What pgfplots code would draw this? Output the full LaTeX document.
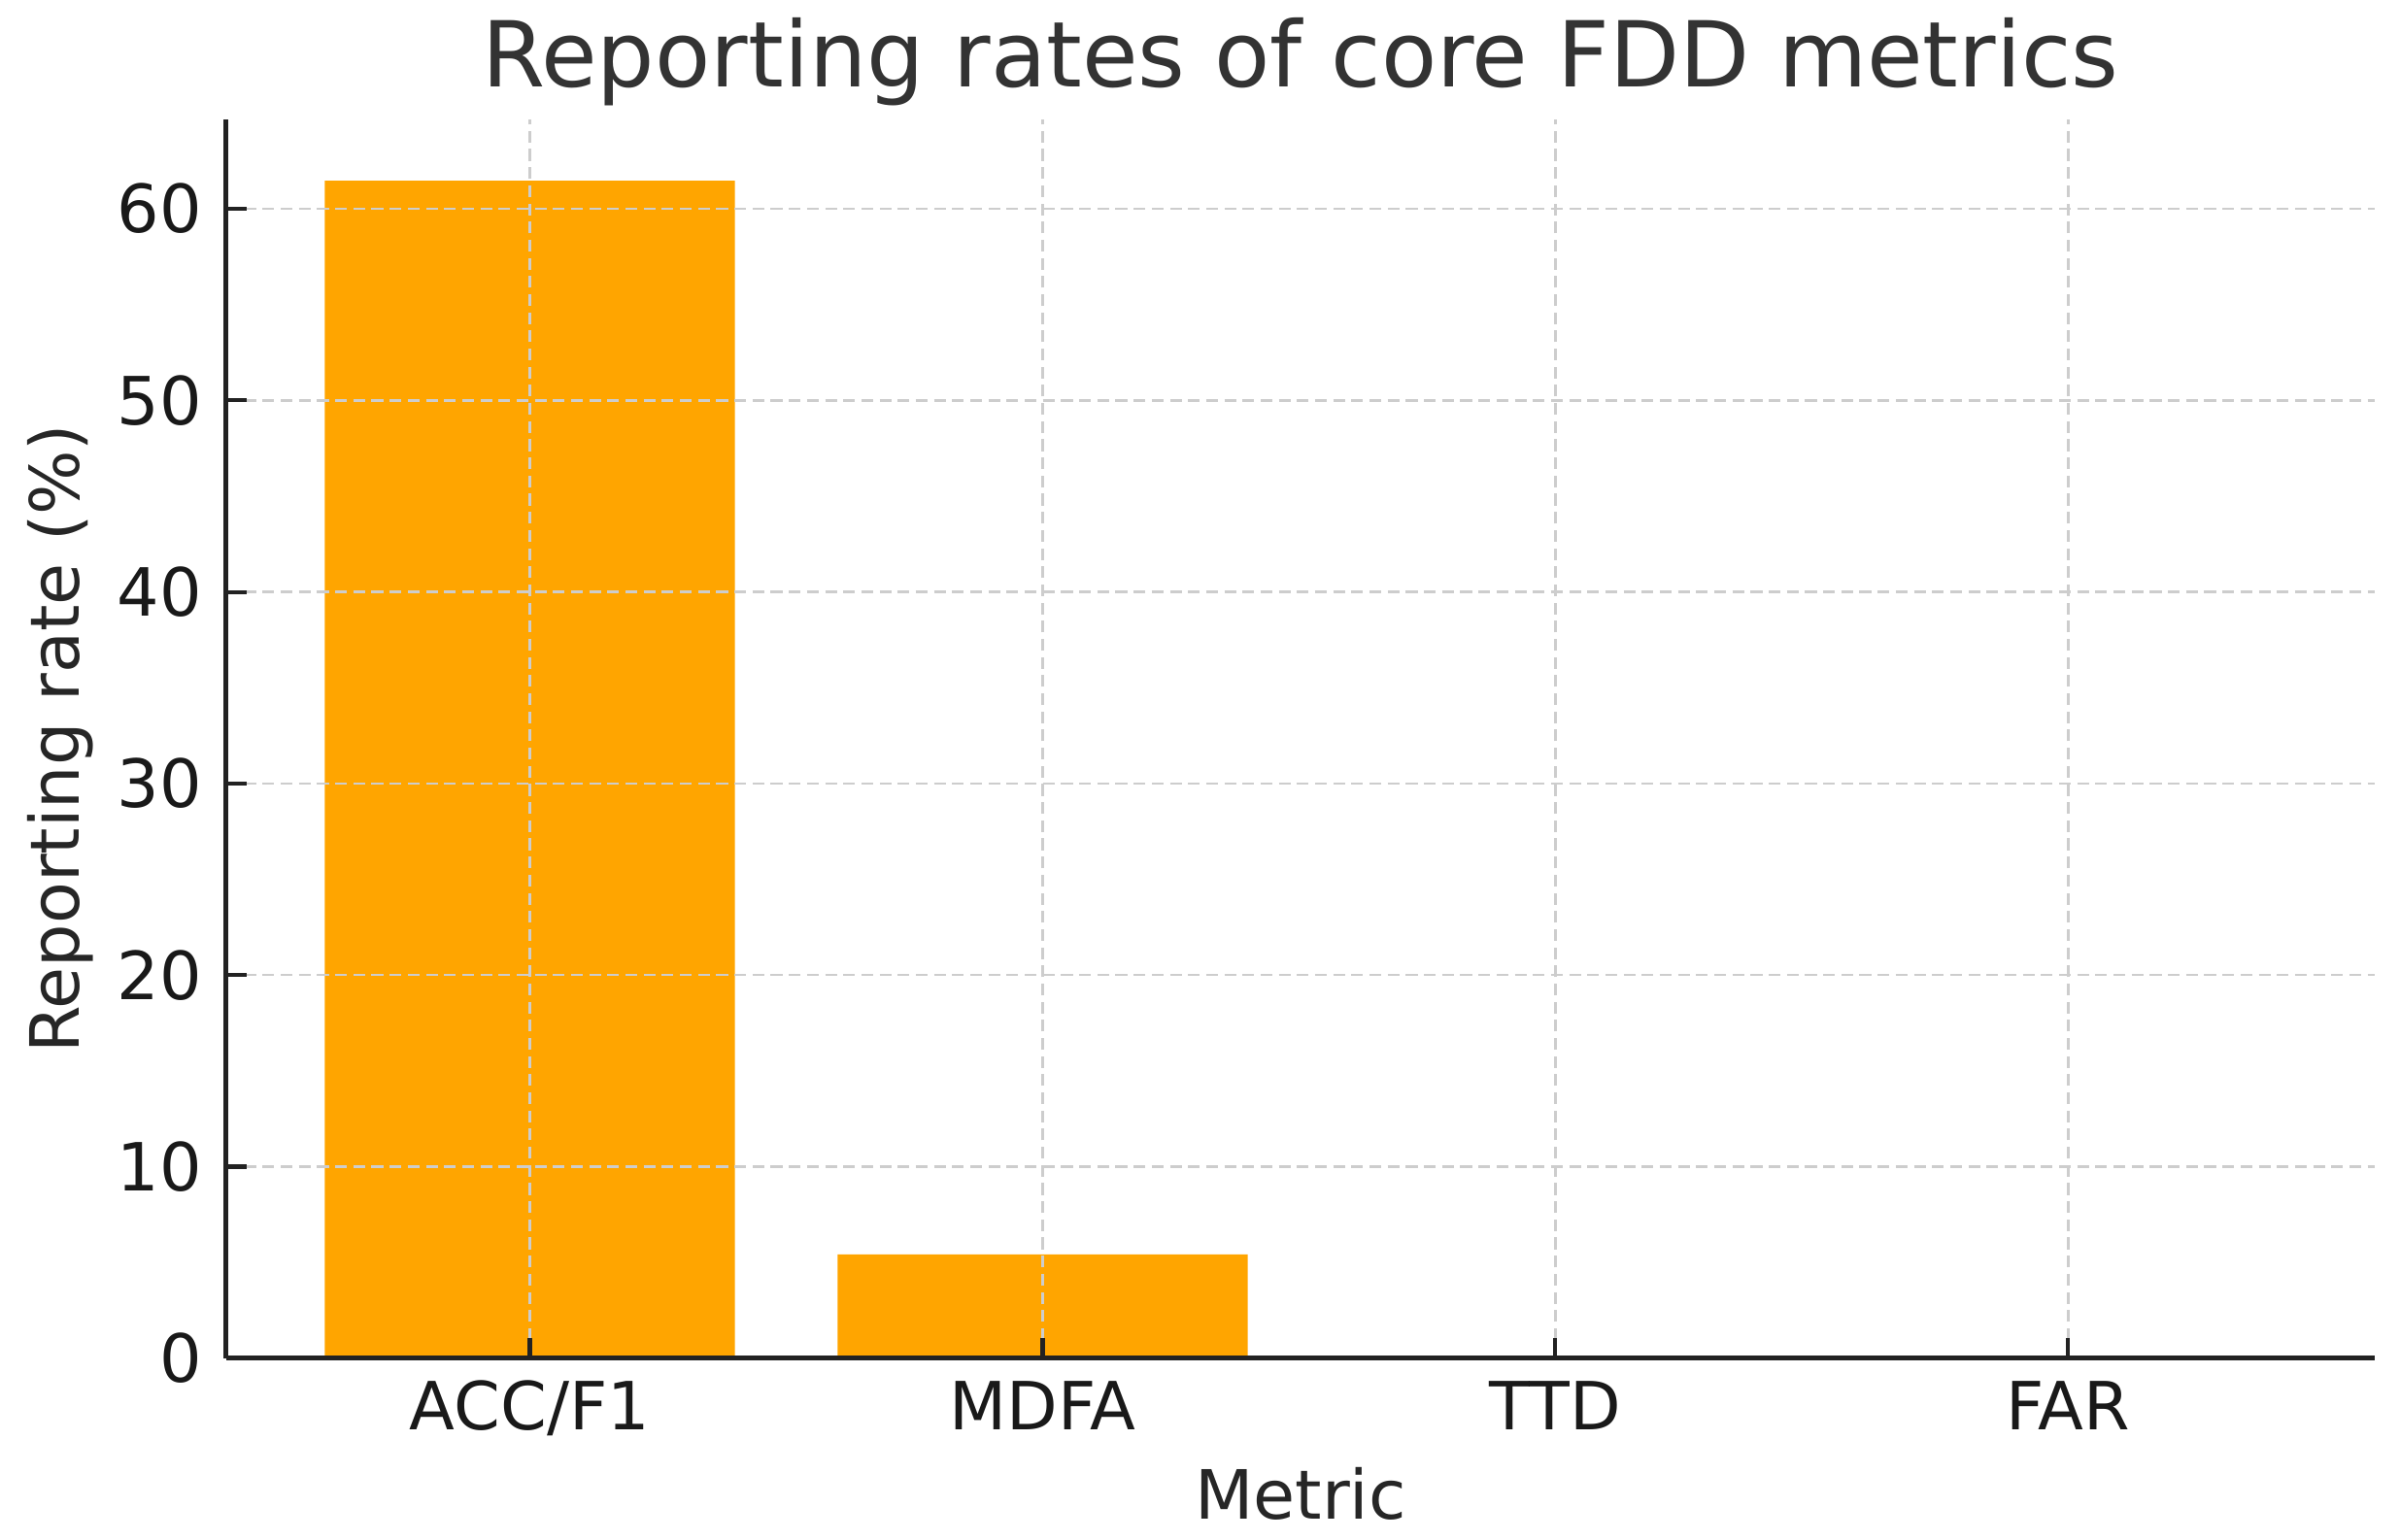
\documentclass[border=0pt]{standalone}
\usepackage{fontspec}
\setmainfont{DejaVu Sans}
\usepackage{pgfplots}
\pgfplotsset{compat=1.18}
\definecolor{barorange}{HTML}{FFA500}
\definecolor{gridgray}{HTML}{CDCDCD}
\definecolor{spine}{HTML}{222222}
\begin{document}
\begin{tikzpicture}
\begin{axis}[
  at={(0,0)}, anchor=south west,
  scale only axis, width=420.3pt, height=242.4pt,
  xmin=-0.592, xmax=3.598, ymin=0, ymax=64.67,
  xtick={0,1,2,3}, xticklabels={ACC/F1,MDFA,TTD,FAR},
  ytick={0,10,...,60},
  axis x line*=bottom, axis y line*=left,
  axis line style={spine, line width=0.95pt},
  tick style={spine, line width=0.8pt},
  major tick length=4pt, tick align=inside,
  grid=major,
  grid style={gridgray, dash pattern=on 2.3pt off 1.25pt, line width=0.5pt},
  axis on top,
  /pgf/number format/assume math mode=true,
  ticklabel style={font=\fontsize{13}{13}\selectfont, text=black!90},
  yticklabel style={anchor=east, inner sep=0pt, xshift=-4.6pt},
  xticklabel style={anchor=base, inner sep=0pt, yshift=-14.1pt},
  every axis title shift=0pt,
  title={Reporting rates of core FDD metrics},
  title style={at={(axis description cs:0.5,1)}, anchor=base, yshift=6.3pt, font=\fontsize{17.8}{17.8}\selectfont, text=black!80},
  xlabel={Metric},
  ylabel={Reporting rate (\%)},
  label style={font=\fontsize{13.3}{13.3}\selectfont, text=black!85},
  xlabel style={at={(axis description cs:0.5,-0.130)}, anchor=base},
  ylabel style={at={(axis description cs:-0.0685,0.5)}, anchor=base, rotate=0},
]
\addplot[ybar, bar width=0.8, fill=barorange, draw=none] coordinates {(0,61.47) (1,5.42) (2,0) (3,0)};
\end{axis}
\pgfresetboundingbox
\path (-44.27pt,-35.53pt) rectangle (425.24pt,265.77pt);
\end{tikzpicture}
\end{document}
